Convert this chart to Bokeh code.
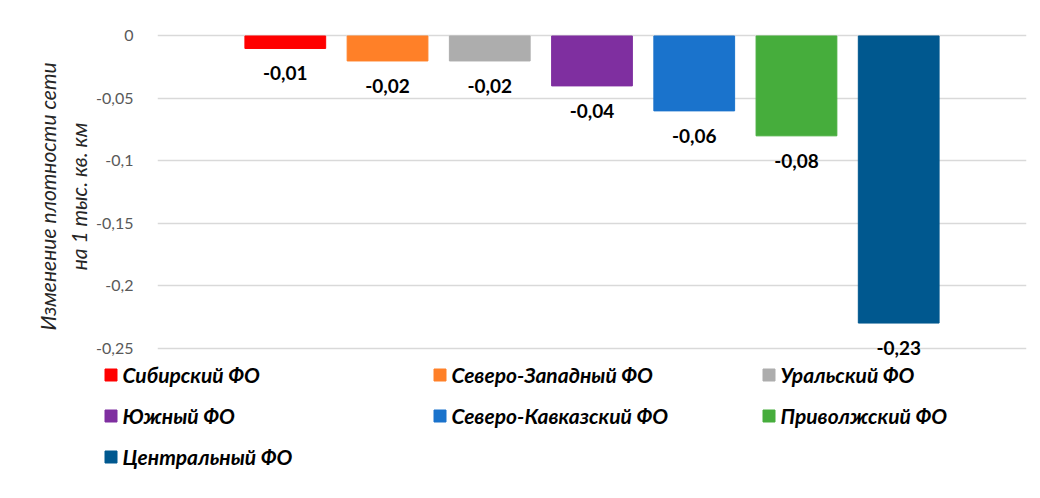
from bokeh.plotting import figure
from bokeh.layouts import column
from bokeh.models import ColumnDataSource, Legend, LegendItem, FixedTicker, CustomJSTickFormatter
from bokeh.core.properties import value
from bokeh.embed import file_html
from bokeh.resources import INLINE

districts = ["Сибирский ФО", "Северо-Западный ФО", "Уральский ФО", "Южный ФО",
             "Северо-Кавказский ФО", "Приволжский ФО", "Центральный ФО"]
changes = [-0.01, -0.02, -0.02, -0.04, -0.06, -0.08, -0.23]
colors = ["#FF0000", "#FF8028", "#ADADAD", "#7F2FA0", "#1A73CC", "#46AD3C", "#00588F"]
y_ticks = [0, -0.05, -0.1, -0.15, -0.2, -0.25]
y_title = "Изменение плотности сети\nна 1 тыс. кв. км"

positions = [i + 0.5 for i in range(len(districts))]
labels = [("%.2f" % v).replace(".", ",") for v in changes]

# main chart
p = figure(width=1032, height=359, x_range=(-0.75, 7.75), y_range=(-0.2592, 0.002),
           output_backend="svg", toolbar_location=None,
           min_border_left=157, min_border_right=6, min_border_top=33, min_border_bottom=0)
p.frame_align = False
p.outline_line_color = None
p.xaxis.visible = False
p.xgrid.visible = False
p.ygrid.grid_line_color = "#D9D9D9"
p.ygrid.grid_line_width = 1.5

ax = p.yaxis[0]
ax.ticker = FixedTicker(ticks=y_ticks)
ax.formatter = CustomJSTickFormatter(code="return tick === 0 ? '0' : String(Math.round(tick*100)/100).replace('.', ',');")
ax.axis_line_color = None
ax.major_tick_line_color = None
ax.minor_tick_line_color = None
ax.major_label_standoff = 18
ax.major_label_text_font = "Lato"
ax.major_label_text_font_size = "16px"
ax.major_label_text_color = "#595959"
ax.axis_label = y_title
ax.axis_label_text_font = "Lato"
ax.axis_label_text_font_style = "italic"
ax.axis_label_text_font_size = "21px"
ax.axis_label_text_color = "#262626"
ax.axis_label_text_line_height = 1.25
ax.axis_label_standoff = 2

for i in range(len(districts)):
    src = ColumnDataSource(dict(x=[positions[i]], top=[changes[i]], lab=[labels[i]]))
    p.vbar(x="x", top="top", bottom=0, width=0.79, source=src,
           fill_color=colors[i], line_color=colors[i])
    p.text(x="x", y="top", text="lab", source=src, text_align="center",
           text_baseline="middle", y_offset=25, text_font=value("Lato"),
           text_font_style="bold", text_font_size="19px", text_color="#000000")

# legend strip (same series, bars kept out of view; only the legend shows)
p2 = figure(width=1032, height=131, x_range=(0, 1), y_range=(1, 2),
            output_backend="svg", toolbar_location=None,
            min_border_left=0, min_border_right=0, min_border_top=0, min_border_bottom=0)
p2.frame_align = False
p2.axis.visible = False
p2.grid.visible = False
p2.outline_line_color = None
items = []
for i in range(len(districts)):
    src = ColumnDataSource(dict(x=[positions[i]], top=[changes[i]]))
    r = p2.vbar(x="x", top="top", bottom=0, width=0.79, source=src,
                fill_color=colors[i], line_color=colors[i])
    items.append(LegendItem(label=districts[i], renderers=[r]))

legend = Legend(items=items, orientation="horizontal", ncols=3,
                location=(102.5, 21.5), padding=0, margin=0, spacing=16,
                glyph_width=15, glyph_height=15, label_standoff=5,
                label_width=293, label_height=20,
                label_text_font="Lato", label_text_font_style="bold italic",
                label_text_font_size="21px", label_text_color="#000000",
                background_fill_alpha=0, border_line_color=None)
p2.add_layout(legend, "center")

layout = column(p, p2, spacing=0)
open("out.html", "w").write(file_html(layout, INLINE))
